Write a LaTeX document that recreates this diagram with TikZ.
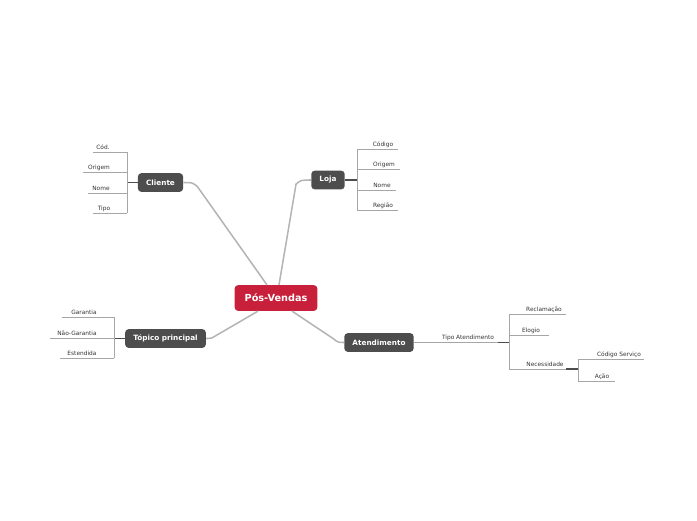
\documentclass[tikz,border=0pt]{standalone}
\usepackage{fontspec}
\setmainfont{DejaVu Sans}
\usetikzlibrary{calc, positioning}

\definecolor{topicred}{HTML}{C8203A}
\definecolor{topicgray}{HTML}{4D4D4D}
\definecolor{branchgray}{HTML}{B4B4B4}
\definecolor{leafgray}{HTML}{A6A6A6}

\tikzset{
  central/.style={fill=topicred, text=white, rounded corners=3pt,
    font=\fontsize{8.3}{10}\selectfont\bfseries, minimum height=22pt, inner xsep=8.5pt},
  maintopic/.style={fill=topicgray, text=white, rounded corners=3pt,
    font=\fontsize{6.2}{7.5}\selectfont\bfseries, minimum height=16pt, inner xsep=7pt},
  leaf/.style={text=black!80, font=\fontsize{5}{6}\selectfont, inner sep=0pt, anchor=base},
  branch/.style={branchgray, line width=1.3pt},
  leafline/.style={leafgray, line width=0.7pt},
  hubline/.style={topicgray, line width=1.2pt},
}

\begin{document}
\begin{tikzpicture}[x=0.03cm, y=-0.03cm]
            \useasboundingbox (0,0) rectangle (697,520);
            \node[central] (PV) at (276,298) {Pós-Vendas};
            \node[maintopic] (CL) at (160.5,182.5) {Cliente};
            \node[maintopic] (LJ) at (328,180) {Loja};
            \node[maintopic] (TP) at (165.5,338.5) {Tópico principal};
            \node[maintopic] (AT) at (379,342.5) {Atendimento};
            \coordinate (CLhub) at (127,182.5);
            \coordinate (LJhub) at (357,180);
            \coordinate (TPhub) at (114,338.5);
            \coordinate (ATend) at (498,342.5);
            \coordinate (AThub) at (509,342.5);
            \coordinate (NEend) at (566,369);
            \coordinate (NEhub) at (578,369);
            % ramos do centro
            \draw[branch] ($(PV.north)+(-9,0)$) -- ($(CL.east)+(14,4)$) .. controls ($(CL.east)+(9,0)$) .. (CL.east);
            \draw[branch] ($(PV.north)+(3,0)$) -- ($(LJ.west)+(-15,4)$) .. controls ($(LJ.west)+(-10,0)$) .. (LJ.west);
            \draw[branch] ($(PV.south)+(-18,0)$) -- ($(TP.east)+(10,-3)$) .. controls ($(TP.east)+(5,0)$) .. (TP.east);
            \draw[branch] ($(PV.south)+(16,0)$) -- ($(AT.west)+(-11,-4)$) .. controls ($(AT.west)+(-6,0)$) .. (AT.west);
            % Cliente
            \node[leaf] (c1) at (103,149) {Cód.};
            \node[leaf] (c2) at (99,169) {Origem};
            \node[leaf] (c3) at (101,190) {Nome};
            \node[leaf] (c4) at (104,210) {Tipo};
            \draw[hubline] (CL.west) -- (CLhub);
            \draw[leafline] (CLhub |- 0,152) -- (CLhub |- 0,213);
            \draw[leafline] (CLhub |- 0,152) -- (93,152);
            \draw[leafline] (CLhub |- 0,172) -- (83,172);
            \draw[leafline] (CLhub |- 0,193) -- (88,193);
            \draw[leafline] (CLhub |- 0,213) -- (93,213);
            % Loja
            \node[leaf] (l1) at (383,146) {Código};
            \node[leaf] (l2) at (384,166) {Origem};
            \node[leaf] (l3) at (382,187) {Nome};
            \node[leaf] (l4) at (383,207) {Região};
            \draw[hubline] (LJ.east) -- (LJhub);
            \draw[leafline] (LJhub |- 0,149) -- (LJhub |- 0,210);
            \draw[leafline] (LJhub |- 0,149) -- (398,149);
            \draw[leafline] (LJhub |- 0,169) -- (400,169);
            \draw[leafline] (LJhub |- 0,190) -- (396,190);
            \draw[leafline] (LJhub |- 0,210) -- (398,210);
            % Tópico principal
            \node[leaf] (t1) at (84,314) {Garantia};
            \node[leaf] (t2) at (77,335) {Não-Garantia};
            \node[leaf] (t3) at (82,355) {Estendida};
            \draw[hubline] (TP.west) -- (TPhub);
            \draw[leafline] (TPhub |- 0,317) -- (TPhub |- 0,358);
            \draw[leafline] (TPhub |- 0,317) -- (62,317);
            \draw[leafline] (TPhub |- 0,338) -- (50,338);
            \draw[leafline] (TPhub |- 0,358) -- (60,358);
            % Atendimento
            \node[leaf] (a0) at (468,339) {Tipo Atendimento};
            \draw[leafline] (AT.east) -- (ATend);
            \draw[hubline] (ATend) -- (AThub);
            \node[leaf] (a1) at (544,311) {Reclamação};
            \node[leaf] (a2) at (531,332) {Elogio};
            \node[leaf] (a3) at (545,366) {Necessidade};
            \draw[leafline] (AThub |- 0,314) -- (AThub |- 0,369);
            \draw[leafline] (AThub |- 0,314) -- (566,314);
            \draw[leafline] (AThub |- 0,335) -- (549,335);
            \draw[leafline] (AThub |- 0,369) -- (NEend);
            \draw[hubline] (NEend) -- (NEhub);
            \node[leaf] (n1) at (619,356) {Código Serviço};
            \node[leaf] (n2) at (602,378) {Ação};
            \draw[leafline] (NEhub |- 0,359) -- (NEhub |- 0,381);
            \draw[leafline] (NEhub |- 0,359) -- (644,359);
            \draw[leafline] (NEhub |- 0,381) -- (615,381);
        \end{tikzpicture}
\end{document}
